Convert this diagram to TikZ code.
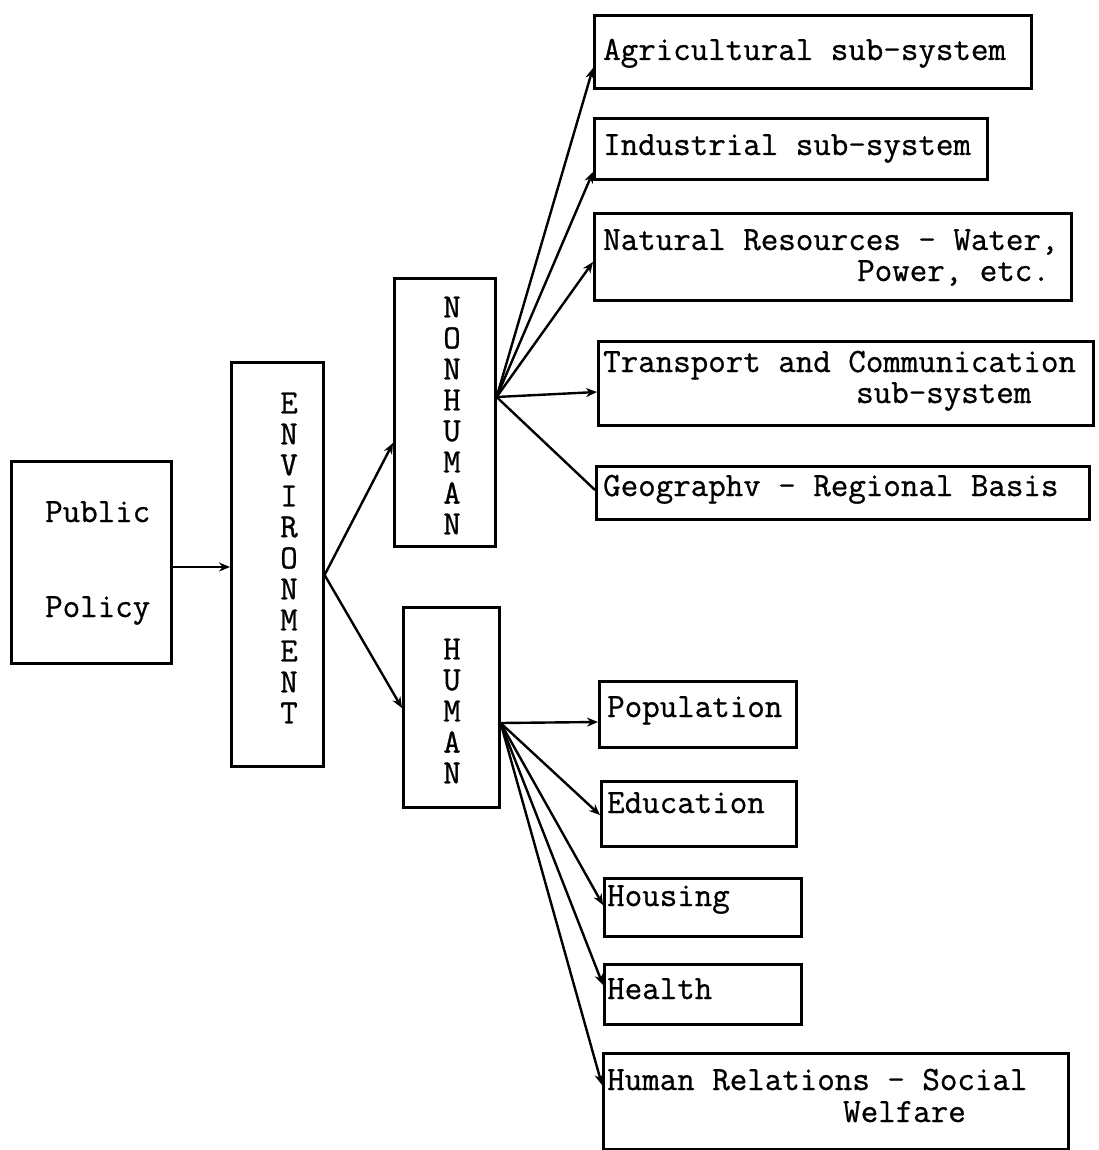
\documentclass[tikz,border=0pt]{standalone}
\usepackage{fontspec}
\newfontfamily\tw{Latin Modern Mono}[FakeBold=0.8]
\usetikzlibrary{arrows.meta}
\begin{document}
\begin{tikzpicture}[x=1pt,y=-1pt,
  box/.style={draw,line width=2.6pt,inner sep=0pt,anchor=north west},
  txt/.style={anchor=base west,inner sep=0pt,font=\fontsize{34}{31}\selectfont\tw},
  vl/.style={inner sep=0pt,font=\fontsize{34}{31}\selectfont\tw},
  arr/.style={line width=2.4pt,-{Stealth[length=11pt,width=9pt]}},
  ln/.style={line width=2.4pt}]
\useasboundingbox (0,0) rectangle (1099,1150);
\fill[white] (0,0) rectangle (1099,1150);

% boxes
\node[box,minimum width=160pt,minimum height=202pt] (pp) at (10,460) {};
\node[box,minimum width=92pt,minimum height=404pt] (env) at (230,361) {};
\node[box,minimum width=101pt,minimum height=268pt] (nh) at (393,277) {};
\node[box,minimum width=96pt,minimum height=200pt] (hu) at (402,606) {};
\node[box,minimum width=437pt,minimum height=73pt] (agr) at (593,14) {};
\node[box,minimum width=393pt,minimum height=61pt] (ind) at (593,117) {};
\node[box,minimum width=477pt,minimum height=87pt] (nat) at (593,212) {};
\node[box,minimum width=495pt,minimum height=84pt] (tra) at (597,340) {};
\node[box,minimum width=493pt,minimum height=53pt] (geo) at (595,465) {};
\node[box,minimum width=197pt,minimum height=66pt] (pop) at (598,680) {};
\node[box,minimum width=195pt,minimum height=65pt] (edu) at (600,780) {};
\node[box,minimum width=197pt,minimum height=58pt] (hou) at (603,877) {};
\node[box,minimum width=197pt,minimum height=60pt] (hea) at (603,963) {};
\node[box,minimum width=465pt,minimum height=96pt] (hr) at (602,1052) {};

% texts
\node[txt] (tpub) at (45,522) {Public};
\node[txt] (tpol) at (45,617) {Policy};
\foreach \l [count=\i from 0] in {E,N,V,I,R,O,N,M,E,N,T}
  \node[vl] (env\i) at (289,{403+31*\i}) {\l};
\foreach \l [count=\i from 0] in {N,O,N,H,U,M,A,N}
  \node[vl] (nh\i) at (452,{307+31*\i}) {\l};
\foreach \l [count=\i from 0] in {H,U,M,A,N}
  \node[vl] (hu\i) at (452,{649+31*\i}) {\l};
\node[txt] (tagr) at (603,60) {Agricultural sub-system};
\node[txt] (tind) at (603,155) {Industrial sub-system};
\node[txt] (tnat1) at (603,250) {Natural Resources - Water,};
\node[txt] (tnat2) at (857,281) {Power, etc.};
\node[txt] (ttra1) at (603,372) {Transport and Communication};
\node[txt] (ttra2) at (856,403) {sub-system};
\node[txt] (tgeo) at (603,496) {Geographv - Regional Basis};
\node[txt] (tpop) at (607,717) {Population};
\node[txt] (tedu) at (607,813) {Education};
\node[txt] (thou) at (607,906) {Housing};
\node[txt] (thea) at (607,999) {Health};
\node[txt] (thr1) at (607,1090) {Human Relations - Social};
\node[txt] (thr2) at (843,1122) {Welfare};

% connectors
\draw[arr] (pp.east |- 0,567) -- (env.west |- 0,567);
\coordinate (envf) at (env.east |- 0,575);
\draw[arr] (envf) -- (nh.west |- 0,443);
\draw[arr] (envf) -- (hu.west |- 0,708);
\coordinate (nhf) at (nh.east |- 0,397);
\draw[arr] (nhf) -- (agr.west |- 0,68);
\draw[arr] (nhf) -- (ind.west |- 0,172);
\draw[arr] (nhf) -- (nat.west |- 0,262);
\draw[arr] (nhf) -- (tra.west |- 0,392);
\draw[ln] (nhf) -- (geo.west |- 0,490);
\coordinate (huf) at (hu.east |- 0,723);
\draw[arr] (huf) -- (pop.west |- 0,722);
\draw[arr] (huf) -- (edu.west |- 0,815);
\draw[arr] (huf) -- (hou.west |- 0,905);
\draw[arr] (huf) -- (hea.west |- 0,985);
\draw[arr] (huf) -- (hr.west |- 0,1085);
\end{tikzpicture}
\end{document}
